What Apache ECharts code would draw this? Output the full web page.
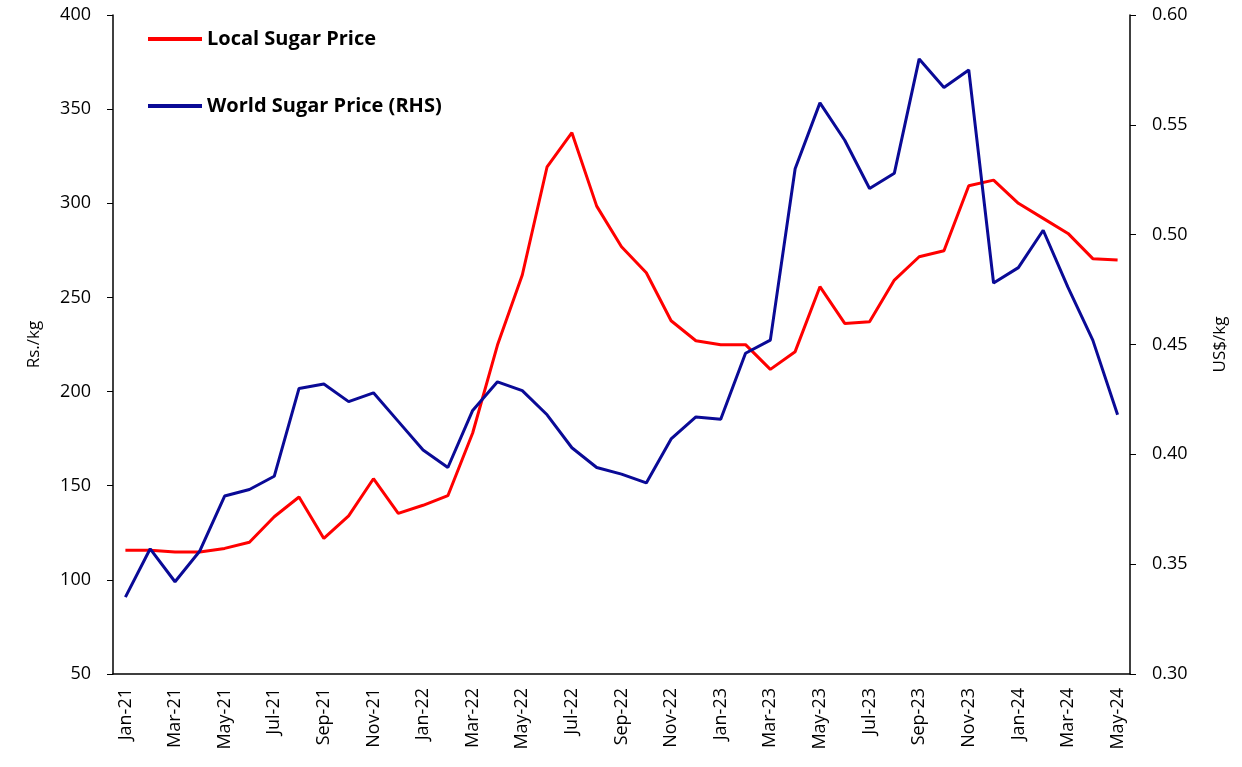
<!DOCTYPE html>
<html>
<head>
<meta charset="utf-8">
<script src="https://cdn.jsdelivr.net/npm/echarts@6/dist/echarts.min.js"></script>
<style>
  html, body { margin: 0; padding: 0; background: #fff; }
  #main { width: 1242px; height: 767px; }
</style>
</head>
<body>
<div id="main"></div>
<script>
const months = [
  "Jan-21","Feb-21","Mar-21","Apr-21","May-21","Jun-21","Jul-21","Aug-21","Sep-21","Oct-21","Nov-21","Dec-21",
  "Jan-22","Feb-22","Mar-22","Apr-22","May-22","Jun-22","Jul-22","Aug-22","Sep-22","Oct-22","Nov-22","Dec-22",
  "Jan-23","Feb-23","Mar-23","Apr-23","May-23","Jun-23","Jul-23","Aug-23","Sep-23","Oct-23","Nov-23","Dec-23",
  "Jan-24","Feb-24","Mar-24","Apr-24","May-24"
];

// Rs./kg (left axis)
const localPrice = [
  115.7, 115.7, 114.8, 114.8, 116.7, 120.0, 133.5, 144.0, 122.0, 134.0, 153.7, 135.3,
  139.6, 144.7, 178.0, 224.7, 261.9, 319.4, 337.5, 298.5, 276.9, 263.1, 237.6, 227.0,
  224.9, 224.9, 211.8, 221.2, 255.7, 236.2, 237.1, 259.2, 271.6, 274.8, 309.3, 312.3,
  300.0, 292.0, 284.0, 270.6, 269.9
];

// US$/kg (right axis)
const worldPrice = [
  0.335, 0.357, 0.342, 0.356, 0.381, 0.384, 0.390, 0.430, 0.432, 0.424, 0.428, 0.415,
  0.402, 0.394, 0.420, 0.433, 0.429, 0.418, 0.403, 0.394, 0.391, 0.387, 0.407, 0.417,
  0.416, 0.446, 0.452, 0.530, 0.560, 0.543, 0.521, 0.528, 0.580, 0.567, 0.575, 0.478,
  0.485, 0.502, 0.476, 0.452, 0.418
];

const font = "'Open Sans', 'Noto Sans', sans-serif";
const axisColor = "#000";

let chart = echarts.init(document.getElementById("main"));

let option = {
  backgroundColor: "#fff",
  animation: false,
  grid: {
    left: 113,
    right: 112,
    top: 15,
    bottom: 93,
  },
  legend: {
    orient: "vertical",
    left: 143,
    top: 24,
    itemWidth: 54,
    itemHeight: 4,
    itemGap: 47,
    icon: "rect",
    textStyle: {
      fontFamily: font,
      fontSize: 20,
      fontWeight: "bold",
      color: "#000",
    },
    data: ["Local Sugar Price", "World Sugar Price (RHS)"],
  },
  xAxis: {
    type: "category",
    data: months,
    boundaryGap: true,
    axisLine: { lineStyle: { color: axisColor, width: 1.5 } },
    axisTick: { show: false },
    axisLabel: {
      interval: 1,
      rotate: 90,
      margin: 14,
      fontFamily: font,
      fontSize: 18,
      color: "#000",
    },
    splitLine: { show: false },
  },
  yAxis: [
    {
      type: "value",
      name: "Rs./kg",
      nameLocation: "middle",
      nameRotate: 90,
      nameGap: 70,
      nameTextStyle: { fontFamily: font, fontSize: 17, color: "#000" },
      min: 50,
      max: 400,
      interval: 50,
      axisLine: { show: true, lineStyle: { color: axisColor, width: 1.5 } },
      axisTick: { show: true, length: 6, lineStyle: { color: axisColor } },
      axisLabel: { margin: 22, fontFamily: font, fontSize: 18, color: "#000" },
      splitLine: { show: false },
    },
    {
      type: "value",
      name: "US$/kg",
      nameLocation: "middle",
      nameRotate: 90,
      nameGap: 82,
      nameTextStyle: { fontFamily: font, fontSize: 17, color: "#000" },
      min: 0.3,
      max: 0.6,
      interval: 0.05,
      position: "right",
      axisLine: { show: true, lineStyle: { color: axisColor, width: 1.5 } },
      axisTick: { show: true, length: 6, lineStyle: { color: axisColor } },
      axisLabel: {
        margin: 22,
        fontFamily: font,
        fontSize: 18,
        color: "#000",
        formatter: (val) => val.toFixed(2),
      },
      splitLine: { show: false },
    },
  ],
  series: [
    {
      name: "Local Sugar Price",
      type: "line",
      yAxisIndex: 0,
      data: localPrice,
      symbol: "none",
      color: "#ff0000",
      lineStyle: { width: 3, color: "#ff0000" },
    },
    {
      name: "World Sugar Price (RHS)",
      type: "line",
      yAxisIndex: 1,
      data: worldPrice,
      symbol: "none",
      color: "#0a0a96",
      lineStyle: { width: 3, color: "#0a0a96" },
    },
  ],
};

chart.setOption(option);
</script>
</body>
</html>
